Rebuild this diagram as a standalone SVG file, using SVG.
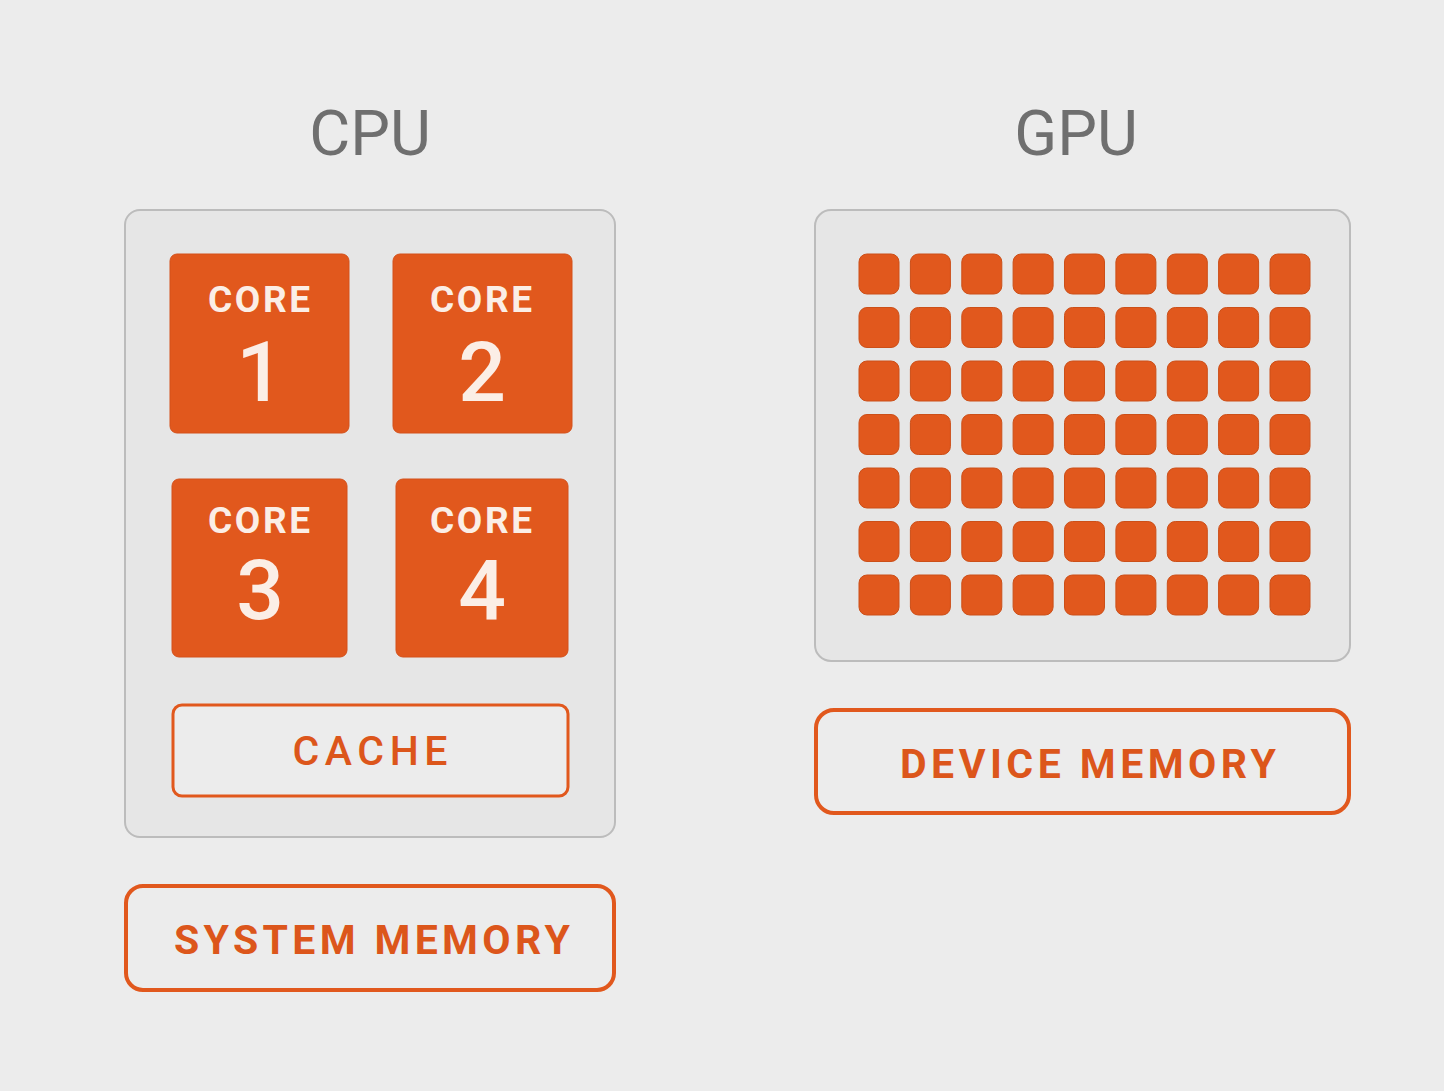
<svg xmlns="http://www.w3.org/2000/svg" width="1444" height="1091" viewBox="0 0 1444 1091">
<style>
.bg{fill:#ececec}
.panel{fill:#e6e6e6;stroke:#bcbcbc;stroke-width:2}
.core{fill:#e1581d;stroke:#d4501a;stroke-width:1}
.cell{fill:#e1581d;stroke:#cc4f18;stroke-width:1}
.mem{fill:#ececec;stroke:#e1581d;stroke-width:4}
.cache{fill:#ececec;stroke:#e1581d;stroke-width:3}
.title{font-family:Roboto,"Liberation Sans",sans-serif;font-size:63px;fill:#6f6f6f;text-anchor:middle}
.cl{font-family:Roboto,"Liberation Sans",sans-serif;font-size:37px;font-weight:700;fill:#fbeee6;text-anchor:middle;letter-spacing:2px}
.cn{font-family:Roboto,"Liberation Sans",sans-serif;font-size:84px;font-weight:500;fill:#fbeee6;text-anchor:middle}
.ml{font-family:Roboto,"Liberation Sans",sans-serif;font-size:41px;font-weight:700;fill:#dc561b;text-anchor:middle}
.cc{font-family:Roboto,"Liberation Sans",sans-serif;font-size:41px;font-weight:500;fill:#dc561b;text-anchor:middle}
</style>
<rect class="bg" x="0" y="0" width="1444" height="1091"/>
<g id="cpu">
<text class="title" x="370" y="155">CPU</text>
<rect class="panel" x="125" y="210" width="490" height="627" rx="15"/>
</g>
<g id="core1"><rect class="core" x="170" y="254" width="179" height="179" rx="7"/><text class="cl" x="260" y="312" textLength="104" lengthAdjust="spacing">CORE</text><text class="cn" x="260" y="401">1</text></g>
<g id="core2"><rect class="core" x="393" y="254" width="179" height="179" rx="7"/><text class="cl" x="482" y="312" textLength="104" lengthAdjust="spacing">CORE</text><text class="cn" x="482" y="401">2</text></g>
<g id="core3"><rect class="core" x="172" y="479" width="175" height="178" rx="7"/><text class="cl" x="260" y="533" textLength="104" lengthAdjust="spacing">CORE</text><text class="cn" x="260" y="619">3</text></g>
<g id="core4"><rect class="core" x="396" y="479" width="172" height="178" rx="7"/><text class="cl" x="482" y="533" textLength="104" lengthAdjust="spacing">CORE</text><text class="cn" x="482" y="619">4</text></g>
<g id="cache"><rect class="cache" x="173" y="705" width="395" height="91" rx="9"/><text class="cc" x="370" y="765" textLength="155" lengthAdjust="spacing">CACHE</text></g>
<g id="system-memory"><rect class="mem" x="126" y="886" width="488" height="104" rx="17"/><text class="ml" x="372" y="954" textLength="396" lengthAdjust="spacing">SYSTEM MEMORY</text></g>
<g id="gpu">
<text class="title" x="1076" y="155">GPU</text>
<rect class="panel" x="815" y="210" width="535" height="451" rx="16"/>
<g id="gpu-cores">
<rect class="cell" x="859" y="254" width="40" height="40" rx="8"/><rect class="cell" x="910.4" y="254" width="40" height="40" rx="8"/><rect class="cell" x="961.8" y="254" width="40" height="40" rx="8"/><rect class="cell" x="1013.1" y="254" width="40" height="40" rx="8"/><rect class="cell" x="1064.5" y="254" width="40" height="40" rx="8"/><rect class="cell" x="1115.9" y="254" width="40" height="40" rx="8"/><rect class="cell" x="1167.3" y="254" width="40" height="40" rx="8"/><rect class="cell" x="1218.6" y="254" width="40" height="40" rx="8"/><rect class="cell" x="1270" y="254" width="40" height="40" rx="8"/>
<rect class="cell" x="859" y="307.5" width="40" height="40" rx="8"/><rect class="cell" x="910.4" y="307.5" width="40" height="40" rx="8"/><rect class="cell" x="961.8" y="307.5" width="40" height="40" rx="8"/><rect class="cell" x="1013.1" y="307.5" width="40" height="40" rx="8"/><rect class="cell" x="1064.5" y="307.5" width="40" height="40" rx="8"/><rect class="cell" x="1115.9" y="307.5" width="40" height="40" rx="8"/><rect class="cell" x="1167.3" y="307.5" width="40" height="40" rx="8"/><rect class="cell" x="1218.6" y="307.5" width="40" height="40" rx="8"/><rect class="cell" x="1270" y="307.5" width="40" height="40" rx="8"/>
<rect class="cell" x="859" y="361" width="40" height="40" rx="8"/><rect class="cell" x="910.4" y="361" width="40" height="40" rx="8"/><rect class="cell" x="961.8" y="361" width="40" height="40" rx="8"/><rect class="cell" x="1013.1" y="361" width="40" height="40" rx="8"/><rect class="cell" x="1064.5" y="361" width="40" height="40" rx="8"/><rect class="cell" x="1115.9" y="361" width="40" height="40" rx="8"/><rect class="cell" x="1167.3" y="361" width="40" height="40" rx="8"/><rect class="cell" x="1218.6" y="361" width="40" height="40" rx="8"/><rect class="cell" x="1270" y="361" width="40" height="40" rx="8"/>
<rect class="cell" x="859" y="414.5" width="40" height="40" rx="8"/><rect class="cell" x="910.4" y="414.5" width="40" height="40" rx="8"/><rect class="cell" x="961.8" y="414.5" width="40" height="40" rx="8"/><rect class="cell" x="1013.1" y="414.5" width="40" height="40" rx="8"/><rect class="cell" x="1064.5" y="414.5" width="40" height="40" rx="8"/><rect class="cell" x="1115.9" y="414.5" width="40" height="40" rx="8"/><rect class="cell" x="1167.3" y="414.5" width="40" height="40" rx="8"/><rect class="cell" x="1218.6" y="414.5" width="40" height="40" rx="8"/><rect class="cell" x="1270" y="414.5" width="40" height="40" rx="8"/>
<rect class="cell" x="859" y="468" width="40" height="40" rx="8"/><rect class="cell" x="910.4" y="468" width="40" height="40" rx="8"/><rect class="cell" x="961.8" y="468" width="40" height="40" rx="8"/><rect class="cell" x="1013.1" y="468" width="40" height="40" rx="8"/><rect class="cell" x="1064.5" y="468" width="40" height="40" rx="8"/><rect class="cell" x="1115.9" y="468" width="40" height="40" rx="8"/><rect class="cell" x="1167.3" y="468" width="40" height="40" rx="8"/><rect class="cell" x="1218.6" y="468" width="40" height="40" rx="8"/><rect class="cell" x="1270" y="468" width="40" height="40" rx="8"/>
<rect class="cell" x="859" y="521.5" width="40" height="40" rx="8"/><rect class="cell" x="910.4" y="521.5" width="40" height="40" rx="8"/><rect class="cell" x="961.8" y="521.5" width="40" height="40" rx="8"/><rect class="cell" x="1013.1" y="521.5" width="40" height="40" rx="8"/><rect class="cell" x="1064.5" y="521.5" width="40" height="40" rx="8"/><rect class="cell" x="1115.9" y="521.5" width="40" height="40" rx="8"/><rect class="cell" x="1167.3" y="521.5" width="40" height="40" rx="8"/><rect class="cell" x="1218.6" y="521.5" width="40" height="40" rx="8"/><rect class="cell" x="1270" y="521.5" width="40" height="40" rx="8"/>
<rect class="cell" x="859" y="575" width="40" height="40" rx="8"/><rect class="cell" x="910.4" y="575" width="40" height="40" rx="8"/><rect class="cell" x="961.8" y="575" width="40" height="40" rx="8"/><rect class="cell" x="1013.1" y="575" width="40" height="40" rx="8"/><rect class="cell" x="1064.5" y="575" width="40" height="40" rx="8"/><rect class="cell" x="1115.9" y="575" width="40" height="40" rx="8"/><rect class="cell" x="1167.3" y="575" width="40" height="40" rx="8"/><rect class="cell" x="1218.6" y="575" width="40" height="40" rx="8"/><rect class="cell" x="1270" y="575" width="40" height="40" rx="8"/>
</g>
</g>
<g id="device-memory"><rect class="mem" x="816" y="710" width="533" height="103" rx="18"/><text class="ml" x="1088" y="778" textLength="376" lengthAdjust="spacing">DEVICE MEMORY</text></g>
<g id="connectors"/>
</svg>
